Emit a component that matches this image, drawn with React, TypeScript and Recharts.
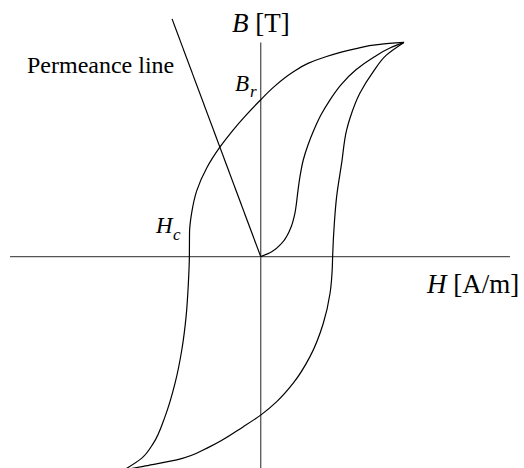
import React from 'react'
import {ComposedChart, Line, ReferenceLine, XAxis, YAxis} from 'recharts'

// normalised units: saturation tip = (1, 1); every branch listed with B rising
const upperH = [-0.954, -0.83, -0.749, -0.668, -0.598, -0.551, -0.521, -0.505, -0.498, -0.497, -0.482, -0.447, -0.377, -0.284, -0.193, -0.11, -0.005, 0.1, 0.218, 0.33, 0.449, 0.658, 0.832, 1.0]
const upperB = [-0.996, -0.941, -0.871, -0.747, -0.591, -0.436, -0.28, -0.124, 0.0, 0.111, 0.204, 0.307, 0.414, 0.512, 0.591, 0.655, 0.729, 0.797, 0.858, 0.902, 0.932, 0.97, 0.991, 1.0]

const lowerH = [-0.954, -0.819, -0.586, -0.354, -0.121, 0.002, 0.112, 0.227, 0.344, 0.437, 0.484, 0.5, 0.502, 0.514, 0.53, 0.565, 0.6, 0.623, 0.692, 0.786, 0.879, 1.0]
const lowerB = [-0.996, -0.979, -0.949, -0.887, -0.794, -0.739, -0.677, -0.591, -0.467, -0.311, -0.171, -0.047, 0.0, 0.156, 0.28, 0.436, 0.592, 0.646, 0.763, 0.864, 0.942, 1.0]

const initialH = [0, 0.077, 0.147, 0.204, 0.239, 0.251, 0.258, 0.274, 0.297, 0.33, 0.372, 0.421, 0.484, 0.56, 0.665, 0.791, 0.902, 1.0]
const initialB = [0, 0.023, 0.063, 0.125, 0.203, 0.257, 0.296, 0.373, 0.451, 0.521, 0.592, 0.662, 0.732, 0.802, 0.872, 0.932, 0.974, 1.0]

const permeanceH = [-0.619, 0]
const permeanceB = [1.11, 0]

const toPoints = (hs: number[], bs: number[]) => hs.map((h, i) => ({h, b: bs[i]}))

const upper = toPoints(upperH, upperB)
const lower = toPoints(lowerH, lowerB)
const initial = toPoints(initialH, initialB)
const permeance = toPoints(permeanceH, permeanceB)

const font = 'Liberation Serif'

const App = () => {
    return (
        <div style={{position: 'absolute', left: 0, top: 0}}>
            <ComposedChart width={524} height={468} margin={{top: 0, right: 0, bottom: 0, left: 0}}>
                <XAxis type='number' dataKey='h' domain={[-1.82, 1.838]} hide allowDataOverflow/>
                <YAxis type='number' domain={[-0.987, 1.198]} hide allowDataOverflow/>
                <ReferenceLine segment={[{x: -1.75, y: 0}, {x: 1.74, y: 0}]} stroke='#555' strokeWidth={1.3}/>
                <ReferenceLine segment={[{x: 0, y: 1.0}, {x: 0, y: -0.987}]} stroke='#555' strokeWidth={1.3}/>
                <Line data={permeance} dataKey='b' type='linear' dot={false} activeDot={false} stroke='#000' strokeWidth={1.2} isAnimationActive={false}/>
                <Line data={upper} dataKey='b' type='monotoneY' dot={false} activeDot={false} stroke='#000' strokeWidth={1.2} isAnimationActive={false}/>
                <Line data={lower} dataKey='b' type='monotoneY' dot={false} activeDot={false} stroke='#000' strokeWidth={1.2} isAnimationActive={false}/>
                <Line data={initial} dataKey='b' type='monotoneY' dot={false} activeDot={false} stroke='#000' strokeWidth={1.2} isAnimationActive={false}/>
                <text x={232} y={32} style={{fontFamily: font}} fontSize={27} fill='#000'>
                    <tspan fontStyle='italic'>B</tspan> [T]
                </text>
                <text x={27} y={72.5} style={{fontFamily: font}} fontSize={24} fill='#000'>Permeance line</text>
                <text x={235} y={90.5} style={{fontFamily: font}} fontSize={23} fill='#000' fontStyle='italic'>B</text>
                <text x={250} y={97} style={{fontFamily: font}} fontSize={17} fill='#000' fontStyle='italic'>r</text>
                <text x={156} y={233} style={{fontFamily: font}} fontSize={23} fill='#000' fontStyle='italic'>H</text>
                <text x={173} y={239.5} style={{fontFamily: font}} fontSize={17} fill='#000' fontStyle='italic'>c</text>
                <text x={427} y={292.5} style={{fontFamily: font}} fontSize={27} fill='#000'>
                    <tspan fontStyle='italic'>H</tspan> [A/m]
                </text>
            </ComposedChart>
        </div>
    )
}
export default App
